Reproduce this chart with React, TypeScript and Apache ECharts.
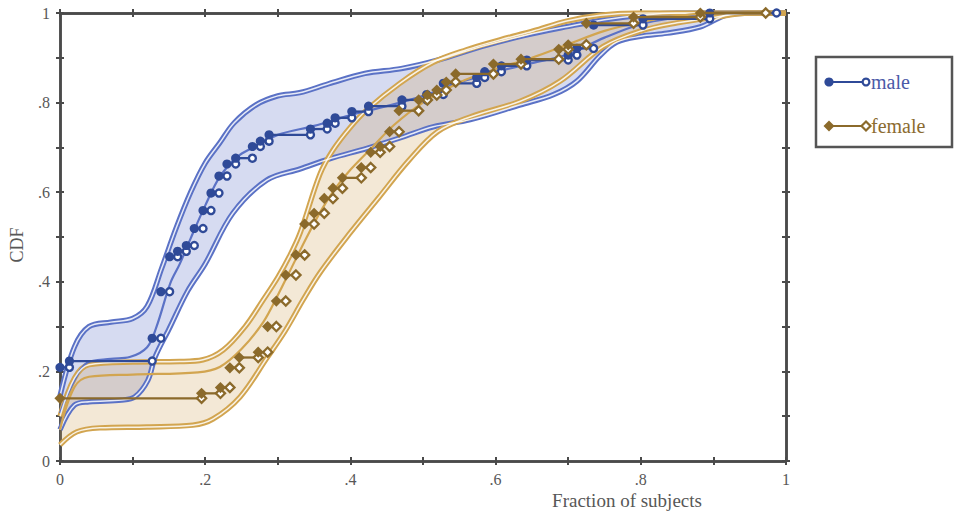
import React, { useEffect, useRef } from "react";
import * as echarts from "echarts";

// ---------- data ----------
// Empirical CDF steps: step i runs from STEP_X[i] (closed) to STEP_X[i+1] (open) at height STEP_Y[i]
const MALE_STEP_X = [0, 0.013, 0.127, 0.139, 0.151, 0.162, 0.174, 0.185, 0.197, 0.208, 0.219, 0.23, 0.242, 0.265, 0.276, 0.288, 0.345, 0.368, 0.379, 0.402, 0.425, 0.471, 0.505, 0.528, 0.574, 0.585, 0.608, 0.643, 0.7, 0.712, 0.735, 0.803, 0.895, 0.987];
const MALE_STEP_Y = [0.209, 0.223, 0.274, 0.378, 0.456, 0.468, 0.481, 0.519, 0.559, 0.598, 0.636, 0.663, 0.676, 0.702, 0.714, 0.728, 0.741, 0.754, 0.766, 0.78, 0.792, 0.806, 0.818, 0.843, 0.856, 0.869, 0.882, 0.895, 0.906, 0.921, 0.973, 0.987, 1.0];

const FEMALE_STEP_X = [0, 0.195, 0.221, 0.234, 0.247, 0.273, 0.286, 0.298, 0.311, 0.325, 0.337, 0.35, 0.364, 0.376, 0.389, 0.415, 0.428, 0.441, 0.454, 0.467, 0.494, 0.506, 0.519, 0.532, 0.545, 0.597, 0.635, 0.687, 0.7, 0.725, 0.79, 0.882, 0.972];
const FEMALE_STEP_Y = [0.14, 0.151, 0.164, 0.208, 0.231, 0.243, 0.3, 0.357, 0.415, 0.46, 0.529, 0.553, 0.586, 0.609, 0.632, 0.655, 0.689, 0.702, 0.735, 0.782, 0.806, 0.817, 0.828, 0.846, 0.864, 0.886, 0.897, 0.919, 0.929, 0.977, 0.991, 1.0];

// Confidence band edges and fitted curves
const MALE_UPPER_X = [0, 0.02, 0.04, 0.07, 0.1, 0.12, 0.14, 0.16, 0.18, 0.2, 0.22, 0.24, 0.27, 0.3, 0.33, 0.37, 0.42, 0.47, 0.52, 0.58, 0.64, 0.7, 0.75, 0.8, 0.85, 0.9, 1];
const MALE_UPPER_Y = [0.145, 0.255, 0.3, 0.31, 0.318, 0.345, 0.43, 0.52, 0.6, 0.665, 0.71, 0.755, 0.795, 0.815, 0.822, 0.842, 0.865, 0.876, 0.895, 0.925, 0.95, 0.97, 0.985, 0.995, 1, 1, 1];
const MALE_LOWER_X = [0, 0.02, 0.04, 0.085, 0.103, 0.121, 0.131, 0.15, 0.176, 0.2, 0.238, 0.285, 0.331, 0.372, 0.423, 0.47, 0.514, 0.565, 0.634, 0.68, 0.712, 0.744, 0.767, 0.8, 0.836, 0.882, 0.919, 0.95, 1];
const MALE_LOWER_Y = [0.07, 0.125, 0.132, 0.136, 0.143, 0.18, 0.232, 0.294, 0.38, 0.44, 0.553, 0.627, 0.652, 0.675, 0.698, 0.722, 0.746, 0.762, 0.795, 0.818, 0.848, 0.905, 0.935, 0.948, 0.955, 0.969, 0.996, 1, 1];
const MALE_FIT_X = [0, 0.018, 0.037, 0.07, 0.096, 0.12, 0.133, 0.152, 0.165, 0.18, 0.2, 0.22, 0.244, 0.266, 0.3, 0.35, 0.4, 0.45, 0.5, 0.55, 0.6, 0.65, 0.7, 0.75, 0.8, 0.85, 0.9, 1];
const MALE_FIT_Y = [0.107, 0.174, 0.219, 0.228, 0.232, 0.254, 0.3, 0.397, 0.44, 0.497, 0.57, 0.634, 0.679, 0.7, 0.728, 0.748, 0.772, 0.792, 0.815, 0.845, 0.868, 0.888, 0.908, 0.945, 0.975, 0.99, 1, 1];

const FEMALE_UPPER_X = [0, 0.02, 0.04, 0.1, 0.165, 0.197, 0.225, 0.255, 0.28, 0.3, 0.317, 0.331, 0.358, 0.376, 0.4, 0.422, 0.468, 0.514, 0.56, 0.606, 0.652, 0.698, 0.744, 0.8, 1];
const FEMALE_UPPER_Y = [0.1, 0.185, 0.215, 0.221, 0.222, 0.226, 0.248, 0.3, 0.36, 0.41, 0.46, 0.51, 0.64, 0.694, 0.745, 0.783, 0.843, 0.89, 0.918, 0.94, 0.96, 0.982, 0.995, 1, 1];
const FEMALE_LOWER_X = [0, 0.023, 0.055, 0.12, 0.183, 0.211, 0.248, 0.285, 0.31, 0.335, 0.358, 0.4, 0.44, 0.48, 0.52, 0.565, 0.634, 0.689, 0.748, 0.8, 0.85, 0.9, 0.95, 1];
const FEMALE_LOWER_Y = [0.036, 0.065, 0.074, 0.076, 0.08, 0.094, 0.143, 0.23, 0.29, 0.36, 0.42, 0.51, 0.59, 0.67, 0.735, 0.768, 0.803, 0.848, 0.925, 0.96, 0.978, 0.99, 1, 1];
const FEMALE_FIT_X = [0, 0.02, 0.04, 0.1, 0.19, 0.22, 0.25, 0.28, 0.3, 0.32, 0.34, 0.36, 0.38, 0.4, 0.43, 0.46, 0.5, 0.55, 0.6, 0.65, 0.7, 0.75, 0.8, 0.85, 0.9, 1];
const FEMALE_FIT_Y = [0.07, 0.165, 0.188, 0.193, 0.198, 0.21, 0.25, 0.31, 0.37, 0.435, 0.5, 0.56, 0.61, 0.65, 0.7, 0.75, 0.8, 0.845, 0.875, 0.9, 0.93, 0.96, 0.98, 0.993, 1, 1];

const SERIES_NAMES = ["male", "female"];
const TICK_LABELS: Record<number, string> = { 0: "0", 2: ".2", 4: ".4", 6: ".6", 8: ".8", 10: "1" };

// ---------- styles ----------
const FONT = "'Liberation Serif', 'DejaVu Serif', serif";
const AXIS_COLOR = "#4a4a4a";
const LABEL_COLOR = "#575757";
const MALE_EDGE = "#5b72c6";
const MALE_DARK = "#2f4a98";
const MALE_FILL = "rgba(90,110,200,0.25)";
const MALE_TEXT = "#4a5aa8";
const FEMALE_EDGE = "#d2a550";
const FEMALE_DARK = "#8b6a2b";
const FEMALE_FILL = "rgba(205,160,85,0.24)";
const FEMALE_TEXT = "#8b6b30";

const zip = (xs: number[], ys: number[]) => xs.map((x, i) => [x, ys[i]]);

function bandSeries(upX: number[], upY: number[], loX: number[], loY: number[], fill: string) {
  return {
    type: "custom",
    silent: true,
    z: 1,
    data: [[0, 0]],
    renderItem: (_p: any, api: any) => {
      const pts: number[][] = [];
      upX.forEach((x, i) => pts.push(api.coord([x, upY[i]])));
      for (let i = loX.length - 1; i >= 0; i--) pts.push(api.coord([loX[i], loY[i]]));
      return { type: "polygon", shape: { points: pts }, style: { fill, stroke: "none" } };
    },
  };
}

function edgeSeries(xs: number[], ys: number[], color: string) {
  const base = { type: "line", smooth: 0.35, showSymbol: false, silent: true, data: zip(xs, ys) };
  return [
    { ...base, z: 3, lineStyle: { color, width: 5.4 } },
    { ...base, z: 4, lineStyle: { color: "#ffffff", width: 1.5, opacity: 0.85 } },
  ];
}

function fitSeries(xs: number[], ys: number[], color: string) {
  return { type: "line", smooth: 0.35, showSymbol: false, silent: true, z: 4, data: zip(xs, ys), lineStyle: { color, width: 2.2 } };
}

function diamond(cx: number, cy: number, r: number, style: any) {
  return { type: "polygon", shape: { points: [[cx, cy - r], [cx + r, cy], [cx, cy + r], [cx - r, cy]] }, style };
}

function stepSeries(name: string, xs: number[], ys: number[], color: string, shape: "circle" | "diamond") {
  return {
    type: "custom",
    name,
    z: 6,
    data: ys.map((y, i) => [xs[i], xs[i + 1], y]),
    encode: { x: [0, 1], y: 2 },
    renderItem: (_p: any, api: any) => {
      const p1 = api.coord([api.value(0), api.value(2)]);
      const p2 = api.coord([api.value(1), api.value(2)]);
      const children: any[] = [
        { type: "line", shape: { x1: p1[0], y1: p1[1], x2: p2[0], y2: p2[1] }, style: { stroke: color, lineWidth: 2.3 } },
      ];
      if (shape === "circle") {
        children.push({ type: "circle", shape: { cx: p2[0], cy: p2[1], r: 3.5 }, style: { fill: "#ffffff", stroke: color, lineWidth: 2.4 } });
        children.push({ type: "circle", shape: { cx: p1[0], cy: p1[1], r: 4.6 }, style: { fill: color } });
      } else {
        children.push(diamond(p2[0], p2[1], 4.6, { fill: "#ffffff", stroke: color, lineWidth: 2.3 }));
        children.push(diamond(p1[0], p1[1], 5.6, { fill: color }));
      }
      return { type: "group", children };
    },
  };
}

const fmt = (v: number) => {
  const k = Math.round(v * 10);
  return TICK_LABELS[k] ?? "";
};

function makeAxis(position: string, inside: boolean, withLabels: boolean) {
  return {
    type: "value",
    min: 0,
    max: 1,
    interval: 0.1,
    position,
    axisLine: { show: true, onZero: false, lineStyle: { color: AXIS_COLOR, width: 2.5 } },
    axisTick: { show: true, inside, length: 4, lineStyle: { color: AXIS_COLOR, width: 2 } },
    axisLabel: withLabels
      ? { show: true, formatter: fmt, color: LABEL_COLOR, fontFamily: FONT, fontSize: 16, margin: 10, showMinLabel: true, showMaxLabel: true }
      : { show: false },
    splitLine: { show: false },
  };
}

export default function App() {
  const ref = useRef<HTMLDivElement>(null);
  useEffect(() => {
    if (!ref.current) return;
    const chart = echarts.init(ref.current, null, { renderer: "svg" });
    const legendY1 = 82;
    const legendY2 = 126;
    chart.setOption({
      animation: false,
      backgroundColor: "#ffffff",
      grid: { left: 60, right: 169, top: 13, bottom: 53, containLabel: false },
      xAxis: [makeAxis("bottom", false, true), makeAxis("bottom", true, false), makeAxis("top", false, false), makeAxis("top", true, false)],
      yAxis: [makeAxis("left", false, true), makeAxis("left", true, false), makeAxis("right", false, false), makeAxis("right", true, false)],
      series: [
        bandSeries(MALE_UPPER_X, MALE_UPPER_Y, MALE_LOWER_X, MALE_LOWER_Y, MALE_FILL),
        bandSeries(FEMALE_UPPER_X, FEMALE_UPPER_Y, FEMALE_LOWER_X, FEMALE_LOWER_Y, FEMALE_FILL),
        ...edgeSeries(MALE_UPPER_X, MALE_UPPER_Y, MALE_EDGE),
        ...edgeSeries(MALE_LOWER_X, MALE_LOWER_Y, MALE_EDGE),
        fitSeries(MALE_FIT_X, MALE_FIT_Y, MALE_EDGE),
        ...edgeSeries(FEMALE_UPPER_X, FEMALE_UPPER_Y, FEMALE_EDGE),
        ...edgeSeries(FEMALE_LOWER_X, FEMALE_LOWER_Y, FEMALE_EDGE),
        fitSeries(FEMALE_FIT_X, FEMALE_FIT_Y, FEMALE_EDGE),
        stepSeries(SERIES_NAMES[0], MALE_STEP_X, MALE_STEP_Y, MALE_DARK, "circle"),
        stepSeries(SERIES_NAMES[1], FEMALE_STEP_X, FEMALE_STEP_Y, FEMALE_DARK, "diamond"),
      ],
      graphic: [
        { type: "text", x: 627, y: 500, style: { text: "Fraction of subjects", fill: LABEL_COLOR, font: `19px ${FONT}`, textAlign: "center", textVerticalAlign: "middle" } },
        { type: "text", x: 17, y: 245, rotation: Math.PI / 2, style: { text: "CDF", fill: LABEL_COLOR, font: `18px ${FONT}`, textAlign: "center", textVerticalAlign: "middle" } },
        { type: "rect", shape: { x: 816, y: 57, width: 136, height: 90 }, style: { fill: "#ffffff", stroke: "#555555", lineWidth: 2.5 } },
        { type: "line", shape: { x1: 829, y1: legendY1, x2: 866, y2: legendY1 }, style: { stroke: MALE_DARK, lineWidth: 2.2 } },
        { type: "circle", shape: { cx: 829, cy: legendY1, r: 4.6 }, style: { fill: MALE_DARK } },
        { type: "circle", shape: { cx: 866, cy: legendY1, r: 3.4 }, style: { fill: "#ffffff", stroke: MALE_DARK, lineWidth: 2.3 } },
        { type: "text", x: 871, y: legendY1, style: { text: SERIES_NAMES[0], fill: MALE_TEXT, font: `20px ${FONT}`, textAlign: "left", textVerticalAlign: "middle" } },
        { type: "line", shape: { x1: 829, y1: legendY2, x2: 866, y2: legendY2 }, style: { stroke: FEMALE_DARK, lineWidth: 2.2 } },
        { type: "polygon", shape: { points: [[829, legendY2 - 5.5], [834.5, legendY2], [829, legendY2 + 5.5], [823.5, legendY2]] }, style: { fill: FEMALE_DARK } },
        { type: "polygon", shape: { points: [[866, legendY2 - 4.5], [870.5, legendY2], [866, legendY2 + 4.5], [861.5, legendY2]] }, style: { fill: "#ffffff", stroke: FEMALE_DARK, lineWidth: 2.2 } },
        { type: "text", x: 871, y: legendY2, style: { text: SERIES_NAMES[1], fill: FEMALE_TEXT, font: `20px ${FONT}`, textAlign: "left", textVerticalAlign: "middle" } },
      ],
    });
    return () => chart.dispose();
  }, []);
  return <div ref={ref} style={{ position: "fixed", left: 0, top: 0, width: 955, height: 514, background: "#fff" }} />;
}
